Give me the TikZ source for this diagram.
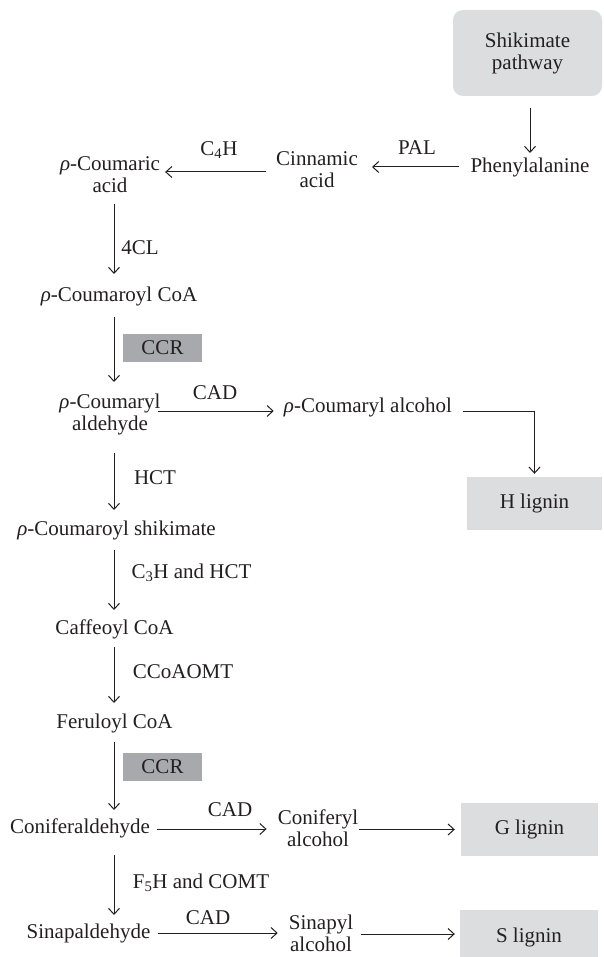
\documentclass[tikz,border=0pt]{standalone}
\usepackage{fontspec}
\setmainfont{Liberation Serif}
\usetikzlibrary{arrows.meta,calc}
\definecolor{ink}{HTML}{231F20}
\definecolor{lightbox}{HTML}{DCDDDE}
\definecolor{ccrbox}{HTML}{A7A9AC}
\begin{document}
\begin{tikzpicture}[x=1pt,y=-1pt,
  every node/.style={font=\fontsize{21}{22}\selectfont, text=ink},
  txt/.style={inner sep=0pt, align=center},
  lbl/.style={inner sep=0pt},
  endbox/.style={fill=lightbox, inner sep=0pt, align=center},
  ccrlbl/.style={fill=ccrbox, minimum width=79pt, minimum height=28pt, inner sep=0pt},
  arr/.style={draw=ink, line width=1pt, -{Straight Barb[length=6pt,width=11pt]}}]
\useasboundingbox (0,0) rectangle (604,957);
\coordinate (spine) at (114,0);

% boxes
\node[endbox, rounded corners=10pt, minimum width=149pt, minimum height=86pt] (shik) at (527.5,53) {Shikimate\\pathway};
\node[endbox, minimum width=135pt, minimum height=53pt] (hlig) at (534.5,503.5) {H lignin};
\node[endbox, minimum width=137pt, minimum height=53pt] (glig) at (529.5,829.5) {G lignin};
\node[endbox, minimum width=138pt, minimum height=54pt] (slig) at (529,937) {S lignin};

% compounds
\node[txt] (phe) at (530,167) {Phenylalanine};
\node[txt] (cinn) at (317,170) {Cinnamic\\acid};
\node[txt] (pca) at (110,175) {{\itshape ρ}-Coumaric\\acid};
\node[txt] (pcoa) at (119,296) {{\itshape ρ}-Coumaroyl CoA};
\node[txt] (pcald) at (110,414) {{\itshape ρ}-Coumaryl\\aldehyde};
\node[txt] (pcalc) at (368,407) {{\itshape ρ}-Coumaryl alcohol};
\node[txt] (pcs) at (116.5,530) {{\itshape ρ}-Coumaroyl shikimate};
\node[txt] (caf) at (114.5,629) {Caffeoyl CoA};
\node[txt] (fer) at (114.5,723) {Feruloyl CoA};
\node[txt] (conal) at (80,828) {Coniferaldehyde};
\node[txt] (conalc) at (318,828) {Coniferyl\\alcohol};
\node[txt] (sinal) at (88.5,933) {Sinapaldehyde};
\node[txt] (sinalc) at (321,933) {Sinapyl\\alcohol};

% enzyme labels
\node[lbl] (lpal) at (417,148) {PAL};
\node[lbl] (lc4h) at (219,150) {C\textsubscript{4}H};
\node[lbl] (l4cl) at (140,248) {4CL};
\node[ccrlbl] (ccr1) at (162.5,348) {CCR};
\node[lbl] (lcad1) at (215,393) {CAD};
\node[lbl] (lhct) at (155,478) {HCT};
\node[lbl] (lc3h) at (191.5,573) {C\textsubscript{3}H and HCT};
\node[lbl] (lccoa) at (183,672) {CCoAOMT};
\node[ccrlbl] (ccr2) at (162.5,767) {CCR};
\node[lbl] (lcad2) at (230,810) {CAD};
\node[lbl] (lf5h) at (201,883) {F\textsubscript{5}H and COMT};
\node[lbl] (lcad3) at (208,918) {CAD};

% connectors
\draw[arr, shorten <=12pt, shorten >=14pt] (phe.center |- shik.south) -- (phe.center);
\draw[arr, shorten <=11pt, shorten >=14pt] (phe.west) -- (phe.west -| cinn.east);
\draw[arr, shorten <=10pt, shorten >=5pt] ($(cinn.west)+(0,2)$) -- ($(cinn.west -| pca.east)+(0,2)$);
\draw[arr, shorten <=29pt, shorten >=22pt] (pca.center -| spine) -- (pcoa.center -| spine);
\draw[arr, shorten <=21pt, shorten >=32pt] (pcoa.center -| spine) -- (pcald.center -| spine);
\draw[arr, shorten >=10pt] ($(pcald.east |- pcalc.west)+(-3,4)$) -- ($(pcalc.west)+(0,4)$);
\draw[arr, shorten >=3pt] ($(pcalc.east)+(11,4)$) -| (hlig.north);
\draw[arr, shorten <=39pt, shorten >=20pt] (pcald.center -| spine) -- (pcs.center -| spine);
\draw[arr, shorten <=20pt, shorten >=19pt] (pcs.center -| spine) -- (caf.center -| spine);
\draw[arr, shorten <=18pt, shorten >=20pt] (caf.center -| spine) -- (fer.center -| spine);
\draw[arr, shorten <=19pt, shorten >=18pt] (fer.center -| spine) -- (conal.center -| spine);
\draw[arr, shorten <=7pt, shorten >=11pt] ($(conal.east)+(0,1)$) -- ($(conal.east -| conalc.west)+(0,1)$);
\draw[arr, shorten <=1pt, shorten >=6pt] (conalc.east |- glig.west) -- (glig.west);
\draw[arr, shorten <=27pt, shorten >=18pt] (conal.center -| spine) -- (sinal.center -| spine);
\draw[arr, shorten <=7pt, shorten >=11pt] (sinal.east) -- (sinal.east -| sinalc.west);
\draw[arr, shorten <=8pt, shorten >=5pt] ($(sinalc.east)+(0,1)$) -- ($(sinalc.east -| slig.west)+(0,1)$);
\end{tikzpicture}
\end{document}
